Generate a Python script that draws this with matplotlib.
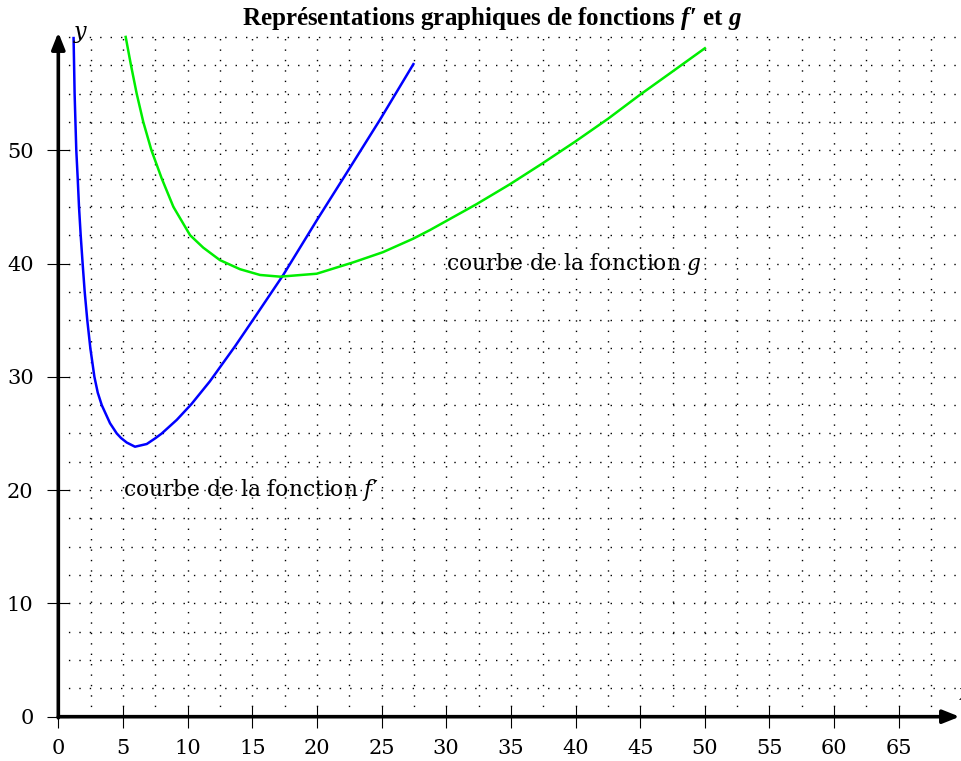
import numpy as np
import matplotlib
matplotlib.use("Agg")
import matplotlib.pyplot as plt

plt.rcParams['font.family'] = ['DejaVu Serif']
plt.rcParams['mathtext.fontset'] = 'custom'
plt.rcParams['mathtext.rm'] = 'DejaVu Serif'
plt.rcParams['mathtext.it'] = 'DejaVu Serif:italic'
plt.rcParams['mathtext.bf'] = 'Liberation Serif:bold'
plt.rcParams['mathtext.bfit'] = 'Liberation Serif:italic:bold'

# points
fp_x = [1.18, 1.22, 1.26, 1.32, 1.39, 1.5, 1.6, 1.73, 1.88, 2.04, 2.24, 2.48, 2.79, 3.05, 3.36,
        4.0, 4.52, 4.85, 5.29, 5.93, 6.84, 7.53, 8.0, 9.16, 10.3, 11.72, 13.67, 15.1, 17.4,
        19.98, 22.3, 24.88, 27.46]
fp_y = [59.9, 57.5, 55.0, 52.65, 50.0, 47.5, 45.0, 42.5, 40.0, 37.5, 35.0, 32.5, 30.0, 28.6, 27.5,
        25.9, 25.0, 24.6, 24.2, 23.83, 24.07, 24.6, 25.0, 26.2, 27.6, 29.6, 32.7, 35.1, 39.0,
        43.8, 48.0, 52.7, 57.6]

g_x = [5.21, 5.62, 6.06, 6.57, 7.2, 8.0, 8.9, 10.19, 11.21, 12.5, 14.05, 15.6, 17.15, 19.98,
       22.8, 25.1, 27.46, 28.75, 32.36, 34.93, 37.39, 39.96, 42.54, 44.99, 47.44, 50.0]
g_y = [60.0, 57.5, 55.0, 52.5, 50.0, 47.5, 45.0, 42.5, 41.4, 40.3, 39.5, 38.99, 38.84, 39.1,
       40.1, 41.0, 42.2, 42.96, 45.25, 47.0, 48.8, 50.75, 52.8, 54.9, 56.9, 59.0]

x_ticks = list(range(0, 70, 5))
y_ticks = list(range(0, 60, 10))
grid_step = 2.5

fig = plt.figure(figsize=(9.61, 7.61), dpi=100)
ax = fig.add_axes([0, 0, 1, 1])
ax.set_xlim(-4.51, 69.81)
ax.set_ylim(-3.91, 63.26)

# dotted grid
gx = np.arange(grid_step, 68, grid_step)
gy = np.arange(grid_step, 60.1, grid_step)
ax.vlines(gx, 0, 60, colors='black', linestyles=(0, (1, 6.5)), linewidth=1.0)
ax.hlines(gy, 0, 69.5, colors='black', linestyles=(0, (1, 6.5)), linewidth=1.0)

# curves
ax.plot(fp_x, fp_y, color='#0000ff', lw=1.8, solid_joinstyle='round')
ax.plot(g_x, g_y, color='#00ee00', lw=1.8, solid_joinstyle='round')

# axes through the origin
for s in ['top', 'right', 'left', 'bottom']:
    ax.spines[s].set_visible(False)
ax.spines['left'].set_position(('data', 0))
ax.spines['bottom'].set_position(('data', 0))
ax.annotate('', xy=(69.7, 0), xytext=(0, 0),
            arrowprops=dict(arrowstyle='-|>,head_length=0.5,head_width=0.2', lw=2.6,
                            color='black', shrinkA=0, shrinkB=0, mutation_scale=20))
ax.annotate('', xy=(0, 60.4), xytext=(0, -0.1),
            arrowprops=dict(arrowstyle='-|>,head_length=0.5,head_width=0.2', lw=2.6,
                            color='black', shrinkA=0, shrinkB=0, mutation_scale=20))

ax.set_xticks(x_ticks)
ax.set_yticks(y_ticks)
ax.tick_params(direction='inout', length=15.5, width=0.8, labelsize=15)
ax.tick_params(axis='x', pad=8)
ax.tick_params(axis='y', pad=10)

ax.text(1.1, 60.3, '$y$', fontsize=16, ha='left', va='center')
ax.text(69.55, 2.0, '$x$', fontsize=16, ha='left', va='center')

ax.text(30, 40, 'courbe de la fonction $g$', fontsize=15.7, ha='left', va='center')
ax.text(5, 20, "courbe de la fonction $f$′", fontsize=15.7, ha='left', va='center')

fig.text(0.5117, 1 - 25 / 761, r"Représentations graphiques de fonctions $\mathbfit{f}$′ et $\mathbfit{g}$",
         fontsize=18, fontweight='bold', family='Liberation Serif', ha='center', va='baseline')

fig.savefig('out.png', dpi=100)
